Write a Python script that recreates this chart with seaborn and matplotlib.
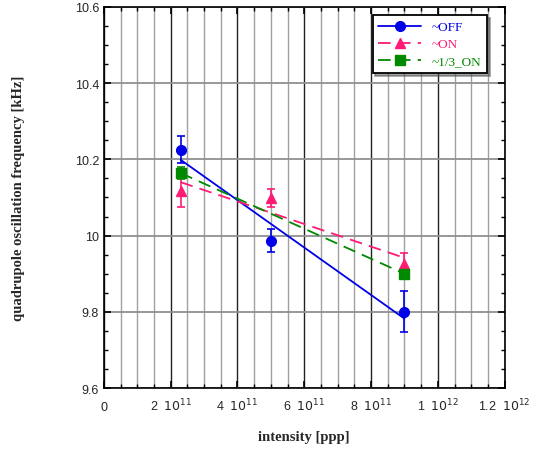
import numpy as np
import pandas as pd
import matplotlib.pyplot as plt
import matplotlib.ticker as mticker
import seaborn as sns

sns.set_style("ticks")
plt.rcParams['font.family'] = ['Liberation Sans', 'DejaVu Sans']

intensity = [2.3e11, 5.0e11, 9.0e11]
freq_off = [10.225, 9.987, 9.800]
err_off = [0.035, 0.030, 0.054]
freq_on = [10.117, 10.099, 9.926]
err_on = [0.041, 0.024, 0.029]
intensity_13 = [2.3e11, 9.0e11]
freq_13 = [10.164, 9.900]
err_13 = [0.016, 0.010]

xtick_vals = [0, 2e11, 4e11, 6e11, 8e11, 1e12, 1.2e12]
xtick_labels = ['0', r'2  $10^{11}$', r'4  $10^{11}$', r'6  $10^{11}$',
                r'8  $10^{11}$', r'1  $10^{12}$', r'1.2  $10^{12}$']

series = [
    ("~OFF", intensity, freq_off, err_off, "#0000e6", "o", "-"),
    ("~ON", intensity, freq_on, err_on, "#ff1a75", "^", (0, (7, 4))),
    ("~1/3_ON", intensity_13, freq_13, err_13, "#008a00", "s", (0, (7, 4))),
]

fig = plt.figure(figsize=(5.38, 4.6), dpi=100)
ax = fig.add_axes([0.193, 0.154, 0.745, 0.829])

ax.set_xlim(0, 1.2e12)
ax.set_ylim(9.6, 10.6)
ax.xaxis.set_major_locator(mticker.FixedLocator(xtick_vals))
ax.xaxis.set_major_formatter(mticker.FixedFormatter(xtick_labels))
ax.xaxis.set_minor_locator(mticker.MultipleLocator(0.5e11))
ax.yaxis.set_major_locator(mticker.MultipleLocator(0.2))
ax.yaxis.set_minor_locator(mticker.MultipleLocator(0.05))
ax.yaxis.set_major_formatter(mticker.FuncFormatter(lambda v, p: f"{v:g}"))

ax.grid(which='major', axis='x', color='#222222', lw=1.0)
ax.grid(which='minor', axis='x', color='#a0a0a0', lw=1.0)
ax.grid(which='major', axis='y', color='#909090', lw=1.3)
ax.set_axisbelow(True)

ax.tick_params(which='both', direction='in', top=True, right=True,
               labelsize=9, color='black')
ax.tick_params(which='major', length=5, width=1.2)
ax.tick_params(which='minor', length=3, width=1.0)
ax.tick_params(axis='x', pad=16)
for lbl in ax.get_xticklabels():
    lbl.set_va('baseline')
for s in ax.spines.values():
    s.set_linewidth(1.2)
    s.set_color('black')

handles = []
for name, xs, ys, es, col, mk, ls in series:
    df = pd.DataFrame({"x": xs, "y": ys})
    sns.regplot(data=df, x="x", y="y", ax=ax, scatter=False, ci=None,
                truncate=True, color=col, line_kws=dict(lw=1.3, ls=ls))
    ax.errorbar(xs, ys, yerr=es, fmt=mk, color=col, ms=7, capsize=3,
                elinewidth=1.2, capthick=1.2, zorder=4)
    h, = ax.plot([], [], color=col, marker=mk, ms=7, lw=1.3, ls=ls)
    handles.append(h)

ax.set_xlabel("intensity [ppp]", family='Liberation Serif', fontweight='bold',
              fontsize=10.5, labelpad=12)
ax.set_ylabel("quadrupole oscillation frequency [kHz]", family='Liberation Serif',
              fontweight='bold', fontsize=10.5, labelpad=36)

leg = ax.legend(handles, [s[0] for s in series], loc='upper right',
                bbox_to_anchor=(0.972, 0.995), fancybox=False, shadow=True,
                framealpha=1, edgecolor='black', fontsize=9.5,
                handlelength=3.2, borderpad=0.45, labelspacing=0.35)
leg.get_frame().set_linewidth(1.3)
for txt, s in zip(leg.get_texts(), series):
    txt.set_color(s[4])
    txt.set_family('Liberation Serif')

fig.savefig("out.png", dpi=100)
